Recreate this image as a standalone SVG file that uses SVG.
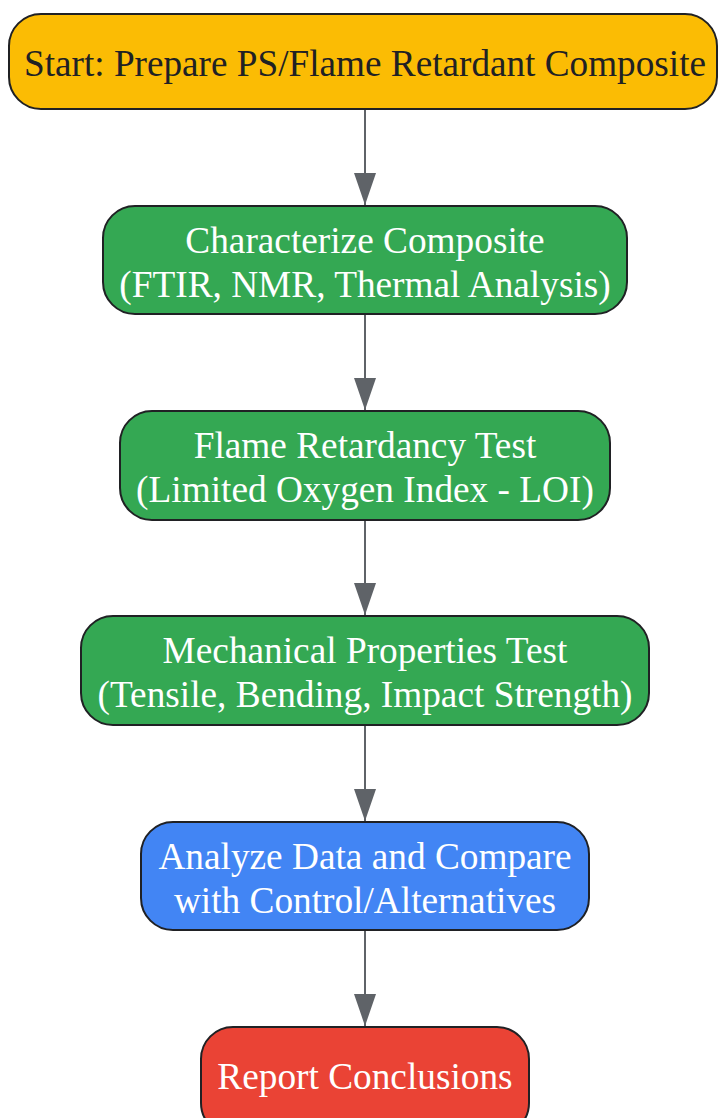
<svg xmlns="http://www.w3.org/2000/svg" width="718" height="1118" viewBox="0 0 718 1118">
<style>
.n{stroke:#202124;stroke-width:2}
.t{font-family:"Liberation Serif","Times New Roman",serif;font-size:37.3px;text-anchor:middle}
.w{fill:#ffffff}
.d{fill:#202124}
.e{stroke:#5f6368;stroke-width:2;fill:none}
</style>
<defs>
<marker id="arr" viewBox="0 0 32 22" refX="32" refY="11" markerWidth="32" markerHeight="22" markerUnits="userSpaceOnUse" orient="auto">
<path d="M0,0 L32,11 L0,22 Z" fill="#5f6368"/>
</marker>
</defs>
<g id="edges">
<line class="e" x1="365" y1="110" x2="365" y2="205" marker-end="url(#arr)"/>
<line class="e" x1="365" y1="315" x2="365" y2="410" marker-end="url(#arr)"/>
<line class="e" x1="365" y1="521" x2="365" y2="615" marker-end="url(#arr)"/>
<line class="e" x1="365" y1="726" x2="365" y2="821" marker-end="url(#arr)"/>
<line class="e" x1="365" y1="931" x2="365" y2="1026" marker-end="url(#arr)"/>
</g>
<g id="start">
<rect class="n" x="9" y="14" width="708" height="95" rx="32" fill="#FBBC04"/>
<text class="t d" x="365" y="76" textLength="682" lengthAdjust="spacingAndGlyphs">Start: Prepare PS/Flame Retardant Composite</text>
</g>
<g id="characterize">
<rect class="n" x="103" y="206" width="524" height="108" rx="32" fill="#34A853"/>
<text class="t w" x="365" y="253">Characterize Composite</text>
<text class="t w" x="365" y="297">(FTIR, NMR, Thermal Analysis)</text>
</g>
<g id="flame">
<rect class="n" x="120" y="411" width="490" height="109" rx="32" fill="#34A853"/>
<text class="t w" x="365" y="458">Flame Retardancy Test</text>
<text class="t w" x="365" y="502">(Limited Oxygen Index - LOI)</text>
</g>
<g id="mechanical">
<rect class="n" x="81" y="616" width="568" height="109" rx="32" fill="#34A853"/>
<text class="t w" x="365" y="663">Mechanical Properties Test</text>
<text class="t w" x="365" y="707">(Tensile, Bending, Impact Strength)</text>
</g>
<g id="analyze">
<rect class="n" x="141" y="822" width="448" height="108" rx="32" fill="#4285F4"/>
<text class="t w" x="365" y="869">Analyze Data and Compare</text>
<text class="t w" x="365" y="913">with Control/Alternatives</text>
</g>
<g id="report">
<rect class="n" x="201" y="1027" width="328" height="108" rx="32" fill="#EA4335"/>
<text class="t w" x="365" y="1089">Report Conclusions</text>
</g>
</svg>
